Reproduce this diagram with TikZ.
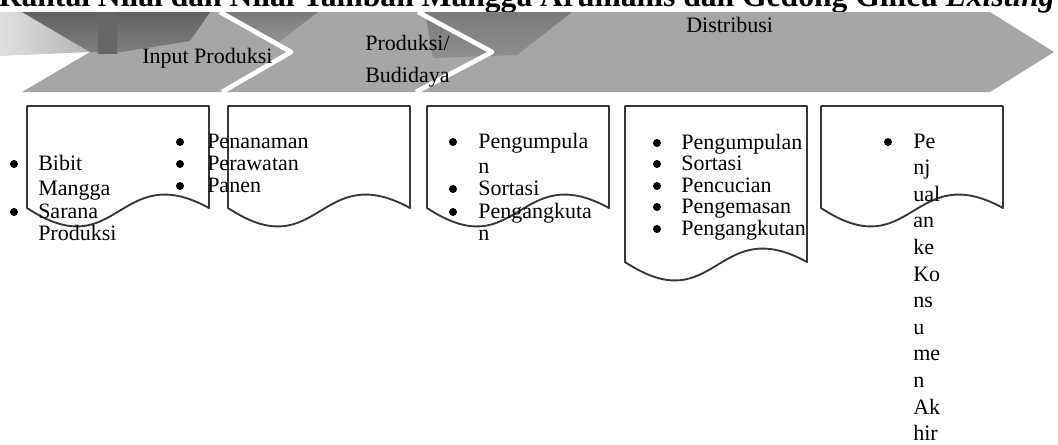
\documentclass[tikz,border=0pt]{standalone}
\usepackage{fontspec}
\setmainfont{Liberation Serif}
\begin{document}
\begin{tikzpicture}[x=.75pt,y=-.75pt,line join=round,
  txt/.style={anchor=base west,inner sep=0pt,font=\fontsize{16.5}{20}\selectfont},
  dot/.style={circle,fill=black,inner sep=0pt,minimum size=6pt},
  docbox/.style={draw=black!78,line width=1.4pt,fill=white}]
\useasboundingbox (0,0) rectangle (1058,444);
% judul, terpotong di atas
\node[anchor=base east,inner sep=0pt,font=\fontsize{23.7}{28}\selectfont\bfseries] (judul) at (1055,6.5) {Rantai Nilai dan Nilai Tambah Mangga Arumanis dan Gedong Gincu \textit{Existing}};
% pita chevron
\shade[left color=black!12,right color=black!30] (0,12)--(22,12)--(90,52)--(0,56)--cycle;
\fill[black!35] (22,12)--(220,12)--(291,52)--(222,92)--(22,92)--(90,52)--cycle;
\fill[black!35] (220,12)--(418,12)--(492,52)--(416,92)--(222,92)--(291,52)--cycle;
\fill[black!35] (418,12)--(990,12)--(1054,52)--(990,92)--(416,92)--(492,52)--cycle;
% bayangan gelap
\shade[top color=black!62,bottom color=black!50] (22,12)--(210,12)--(190,41)--(115,53)--(90,52)--cycle;
\shade[left color=black!60,middle color=black!74,right color=black!60] (98,12) rectangle (117,53);
\shade[top color=black!52,bottom color=black!42] (224,12)--(318,12)--(279,42)--cycle;
\shade[top color=black!52,bottom color=black!44] (425,12)--(572,12)--(517,55)--(433,58)--cycle;
% celah putih
\draw[white,line width=3.5pt] (220,12)--(291,52)--(222,92);
\draw[white,line width=3.5pt] (418,12)--(492,52)--(416,92);
\node[txt] (tahap1) at (142,63) {Input Produksi};
\node[txt] (tahap2a) at (365,50) {Produksi/};
\node[txt] (tahap2b) at (365,82) {Budidaya};
\node[txt] (tahap3) at (686,32) {Distribusi};
% kotak dokumen
\foreach \x/\b in {27/208,228/208,427/208,625/262,821/208}
  \draw[docbox] (\x,106)--(\x+182,106)--(\x+182,\b) .. controls (\x+91,\b-50) and (\x+91,\b+60) .. (\x,\b)--cycle;
% isi kotak 1
\foreach \y [count=\i] in {164,212} \node[dot] (ta\i) at (14,\y) {};
\foreach \t/\y [count=\i] in {Bibit/170,Mangga/195,Sarana/218,Produksi/240}
  \node[txt] (a\i) at (38,\y) {\t};
% isi kotak 2
\foreach \t/\y [count=\i] in {Penanaman/148,Perawatan/170,Panen/192}{
  \node[dot] (tb\i) at (180,\y-6) {};
  \node[txt] (b\i) at (207,\y) {\t};}
% isi kotak 3
\foreach \y [count=\i] in {142,189,212} \node[dot] (tc\i) at (453,\y) {};
\foreach \t/\y [count=\i] in {Pengumpula/148,n/173,Sortasi/195,Pengangkuta/218,n/240}
  \node[txt] (c\i) at (478,\y) {\t};
% isi kotak 4
\foreach \t/\y [count=\i] in {Pengumpulan/149,Sortasi/170,Pencucian/192,Pengemasan/213,Pengangkutan/235}{
  \node[dot] (td\i) at (657,\y-6) {};
  \node[txt] (d\i) at (681,\y) {\t};}
% isi kotak 5
\node[dot] (te1) at (888,142) {};
\foreach \t [count=\i] in {Pe,nj,ual,an,ke,Ko,ns,u,me,n,Ak,hir}
  \node[txt] (e\i) at (913,{148+26.6*(\i-1)}) {\t};
\end{tikzpicture}
\end{document}
